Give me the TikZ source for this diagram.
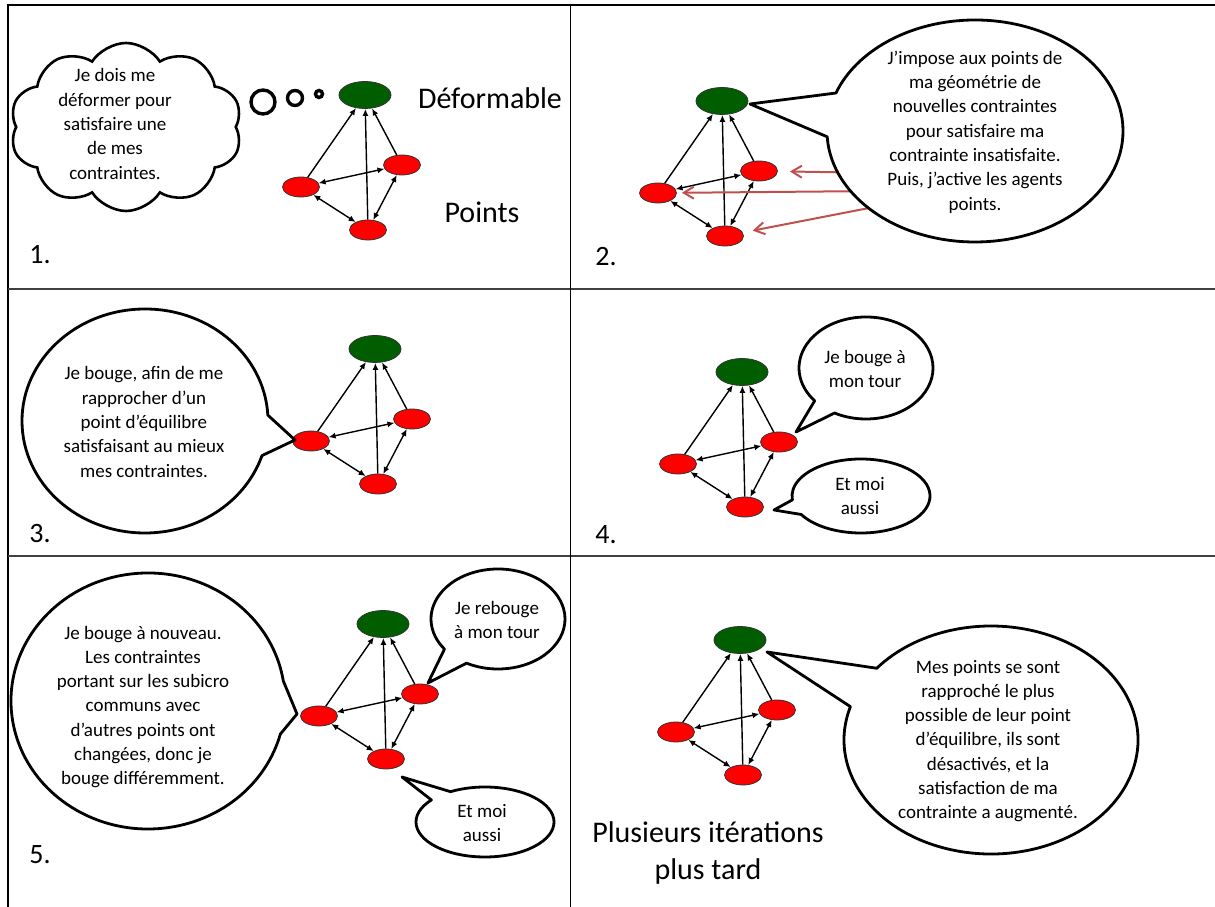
\documentclass[tikz,border=0pt]{standalone}
\usepackage{fontspec}
\setmainfont{Carlito}
\usetikzlibrary{shapes.geometric,shapes.symbols,arrows.meta}
\definecolor{vertfonce}{RGB}{0,94,0}
\definecolor{saumon}{RGB}{192,80,77}

% the four agents, same layout in every panel
\newcommand{\reseau}[2]{%
  \begin{scope}[shift={#2}]
    \node[deform] (g#1) at (0,0) {};
    \node[ptrouge] (l#1) at (-64,-92) {};
    \node[ptrouge] (r#1) at (37,-70) {};
    \node[ptrouge] (b#1) at (3,-135) {};
    \draw[lien,->] (l#1) -- (g#1);
    \draw[lien,->] (r#1) -- (g#1);
    \draw[lien,->] (b#1) -- (g#1);
    \draw[lien,<->] (l#1) -- (r#1);
    \draw[lien,<->] (l#1) -- (b#1);
    \draw[lien,<->] (r#1) -- (b#1);
  \end{scope}}

% speech bubble: centre, rx, ry, gap start, gap end, tip
\newcommand{\bulle}[6]{%
  \filldraw[bulle] (#1) ++(#5:#2 and #3)
    arc[start angle=#5, end angle=#4+360, x radius=#2, y radius=#3]
    -- #6 -- cycle;}

\begin{document}
\begin{tikzpicture}[x=1pt,y=1pt,
    >={Latex[length=7pt,width=6pt]},
    deform/.style={ellipse,draw=black!80,line width=0.8pt,fill=vertfonce,
      minimum width=52pt,minimum height=27pt,inner sep=0},
    ptrouge/.style={ellipse,draw=black!80,line width=0.8pt,fill=red,
      minimum width=37pt,minimum height=20pt,inner sep=0},
    lien/.style={line width=1.4pt},
    bulle/.style={draw=black,fill=white,line width=2.8pt,line join=round},
    fleche/.style={draw=saumon,line width=2pt,-{Straight Barb[length=10pt,width=12pt]}},
    rond/.style={circle,draw,line width=3.4pt,inner sep=0},
    txt/.style={font=\fontsize{19}{24.3}\selectfont,align=center,inner sep=0},
    titre/.style={font=\fontsize{30}{37}\selectfont,align=center,inner sep=0},
    num/.style={font=\fontsize{28}{34}\selectfont,inner sep=0}]
  \useasboundingbox (0,0) rectangle (1215,907);
  \fill[white] (0,0) rectangle (1215,907);

  % grid
  \draw[line width=1.8pt] (8,0) -- (8,902) -- (1215,902);
  \draw[line width=1.3pt,black!75] (8,618) -- (1215,618);
  \draw[line width=1.3pt,black!75] (8,351) -- (1215,351);
  \draw[line width=1pt] (570,0) -- (570,902);

  % 1.
  \node[cloud,draw,fill=white,line width=2.6pt,cloud puffs=10,cloud puff arc=115,
    cloud ignores aspect,minimum width=232pt,minimum height=168pt] (nuage) at (126,780) {};
  \node[txt] (t1) at (115,783) {Je dois me\\déformer pour\\satisfaire une\\de mes\\contraintes.};
  \node[rond,minimum size=24pt] (o1) at (263,805) {};
  \node[rond,minimum size=15pt] (o2) at (295,809) {};
  \node[rond,minimum size=7pt] (o3) at (319,813) {};
  \reseau{1}{(365,812)}
  \node[titre] (deformable) at (490,809) {Déformable};
  \node[titre] (points) at (482,695) {Points};
  \node[num] (n1) at (40,652) {1.};

  % 2.
  \reseau{2}{(722,806)}
  \coordinate (s1) at (880,734);
  \coordinate (s2) at (880,716);
  \coordinate (s3) at (900,705);
  \draw[fleche,shorten >=12pt] (s1) -- (r2);
  \draw[fleche,shorten >=5pt] (s2) -- (l2);
  \draw[fleche,shorten >=10pt] (s3) -- (b2);
  \bulle{975,776}{148}{111}{160}{183}{(750,803)}
  \node[txt] (t2) at (975,775) {J’impose aux points de\\ma géométrie de\\nouvelles contraintes\\pour satisfaire ma\\contrainte insatisfaite.\\Puis, j’active les agents\\points.};
  \node[num] (n2) at (606,650) {2.};

  % 3.
  \reseau{3}{(375,558)}
  \bulle{145,486}{123}{112}{-18}{3}{(295,467)}
  \node[txt] (t3) at (144,485) {Je bouge, afin de me\\rapprocher d’un\\point d’équilibre\\satisfaisant au mieux\\mes contraintes.};
  \node[num] (n3) at (40,373) {3.};

  % 4.
  \reseau{4}{(742,535)}
  \bulle{866,539}{67}{51}{220}{242}{(796,475)}
  \node[txt] (t4a) at (865,538) {Je bouge à\\mon tour};
  \bulle{861,411}{69}{37}{186}{210}{(774,397)}
  \node[txt] (t4b) at (860,411) {Et moi\\aussi};
  \node[num] (n4) at (606,372) {4.};

  % 5.
  \reseau{5}{(383,283)}
  \bulle{148,206}{137}{128}{-15}{9}{(297,193)}
  \node[txt] (t5a) at (143,200) {Je bouge à nouveau.\\Les contraintes\\portant sur les subicro\\communs avec\\d’autres points ont\\changées, donc je\\bouge différemment.};
  \bulle{498,288}{67}{50}{217}{242}{(428,224)}
  \node[txt] (t5b) at (497,287) {Je rebouge\\à mon tour};
  \bulle{485,85}{69}{35}{120}{141}{(402,130)}
  \node[txt] (t5c) at (482,84) {Et moi\\aussi};
  \node[num] (n5) at (40,52) {5.};

  % plus tard
  \reseau{6}{(740,267)}
  \bulle{991,167}{147}{114}{141}{163}{(767,255)}
  \node[txt] (t6) at (988,166) {Mes points se sont\\rapproché le plus\\possible de leur point\\d’équilibre, ils sont\\désactivés, et la\\satisfaction de ma\\contrainte a augmenté.};
  \node[titre] (tard) at (708,54) {Plusieurs itérations\\plus tard};
\end{tikzpicture}
\end{document}
